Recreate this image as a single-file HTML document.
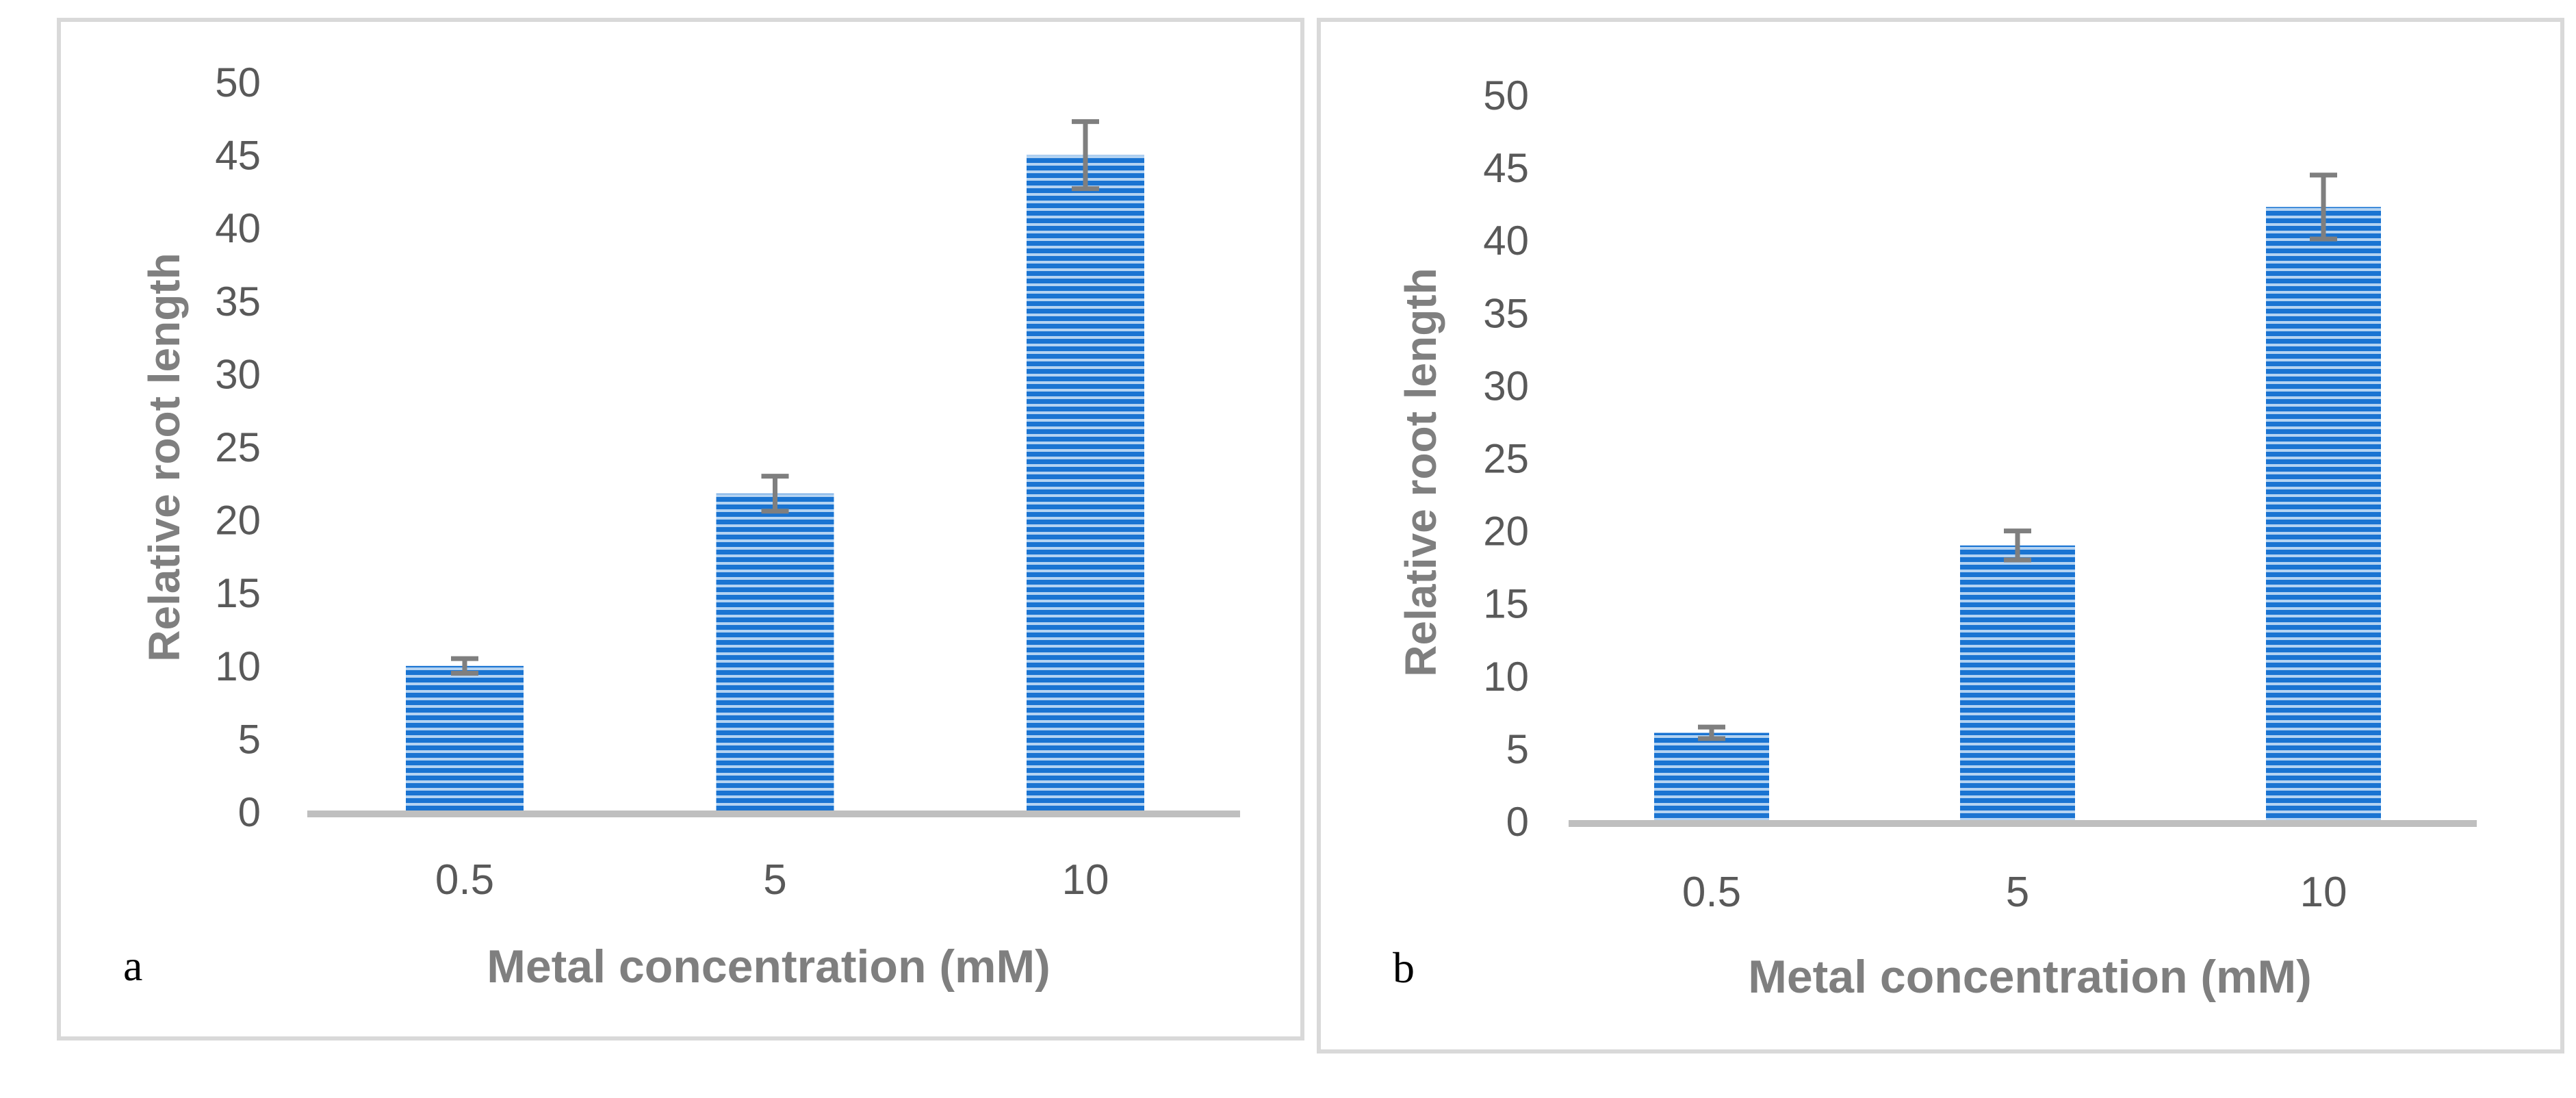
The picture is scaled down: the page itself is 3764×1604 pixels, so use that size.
<!DOCTYPE html>
<html><head><meta charset="utf-8"><style>
html,body{margin:0;padding:0;background:#fff;}
svg{display:block;font-family:"Liberation Sans",sans-serif;}
</style></head><body>
<svg id="chart" width="3764" height="1604" viewBox="0 0 3764 1604" xmlns="http://www.w3.org/2000/svg">
<defs>
<pattern id="stripes" patternUnits="userSpaceOnUse" width="10" height="11">
<rect width="10" height="11" fill="#1a74d2"/>
<rect y="7" width="10" height="4" fill="#b4d3f2"/>
</pattern>
</defs>
<rect x="86" y="29" width="1817" height="1488" fill="none" stroke="#d9d9d9" stroke-width="6"/>
<rect x="1927" y="29" width="1817" height="1507" fill="none" stroke="#d9d9d9" stroke-width="6"/>
<g id="plots"></g>
</svg>
<script>
const categories = ["0.5", "5", "10"];
const valuesA = [10, 21.8, 45];
const errorsA = [0.5, 1.2, 2.3];
const valuesB = [6.1, 19, 42.3];
const errorsB = [0.4, 1, 2.2];
const yTicks = [0, 5, 10, 15, 20, 25, 30, 35, 40, 45, 50];

const NS = "http://www.w3.org/2000/svg";
const root = document.getElementById("plots");
function mk(tag, attrs, parent) {
  const e = document.createElementNS(NS, tag);
  for (const k in attrs) e.setAttribute(k, attrs[k]);
  parent.appendChild(e);
  return e;
}
const panels = [
  {id:"a", vals:valuesA, errs:errorsA, y0:1186, y50:120, axL:449, axR:1812, centers:[679,1133,1586], bw:172, tickX:381, catY:1306, titleX:1123, titleY:1435, yTitleX:262, yTitleY:668, letterX:180, letterY:1432},
  {id:"b", vals:valuesB, errs:errorsB, y0:1200, y50:139, axL:2292, axR:3619, centers:[2501,2957,3395], bw:168, tickX:2234, catY:1324, titleX:2966, titleY:1450, yTitleX:2098, yTitleY:690, letterX:2035, letterY:1435}
];
panels.forEach(p => {
  const g = mk("g", {}, root);
  
  
  const y = v => p.y0 - (p.y0 - p.y50) * v / 50;
  const xc = i => p.centers[0] + (p.centers[2] - p.centers[0]) * i / (categories.length - 1);
  yTicks.forEach(t => {
    const tx = mk("text", {x:p.tickX, y:y(t) + 21, "text-anchor":"end", "font-size":60, fill:"#595959"}, g);
    tx.textContent = t;
    
    
  });
  p.vals.forEach((v, i) => {
    const r = mk("rect", {x:xc(i) - p.bw/2, y:y(v), width:p.bw, height:p.y0 - y(v), fill:"url(#stripes)"}, g);
    
    
    const e = p.errs[i];
    const eg = mk("g", {stroke:"#7f7f7f", "stroke-width":7}, g);
    
    
    mk("line", {x1:xc(i), x2:xc(i), y1:y(v+e), y2:y(v-e)}, eg);
    mk("line", {x1:xc(i)-20, x2:xc(i)+20, y1:y(v+e), y2:y(v+e)}, eg);
    mk("line", {x1:xc(i)-20, x2:xc(i)+20, y1:y(v-e), y2:y(v-e)}, eg);
    const cl = mk("text", {x:xc(i), y:p.catY, "text-anchor":"middle", "font-size":62, fill:"#595959"}, g);
    cl.textContent = categories[i];
    
    
  });
  const ax = mk("line", {x1:p.axL, x2:p.axR, y1:p.y0 + 3, y2:p.y0 + 3, stroke:"#bfbfbf", "stroke-width":10}, g);
  
  
  const xt = mk("text", {x:p.titleX, y:p.titleY, "text-anchor":"middle", "font-size":68, "font-weight":"bold", fill:"#7f7f7f"}, g);
  xt.textContent = "Metal concentration (mM)";
  
  
  const yt = mk("text", {x:p.yTitleX, y:p.yTitleY, "text-anchor":"middle", "font-size":64, "font-weight":"bold", fill:"#7f7f7f", transform:"rotate(-90 " + p.yTitleX + " " + p.yTitleY + ")"}, g);
  yt.textContent = p.id === "a" ? "Relative root  length" : "Relative root length";
  
  
  const lt = mk("text", {x:p.letterX, y:p.letterY, "font-size":64, fill:"#000", "font-family":"Liberation Serif, serif"}, g);
  lt.textContent = p.id;
  
  
});
</script>
</body></html>
